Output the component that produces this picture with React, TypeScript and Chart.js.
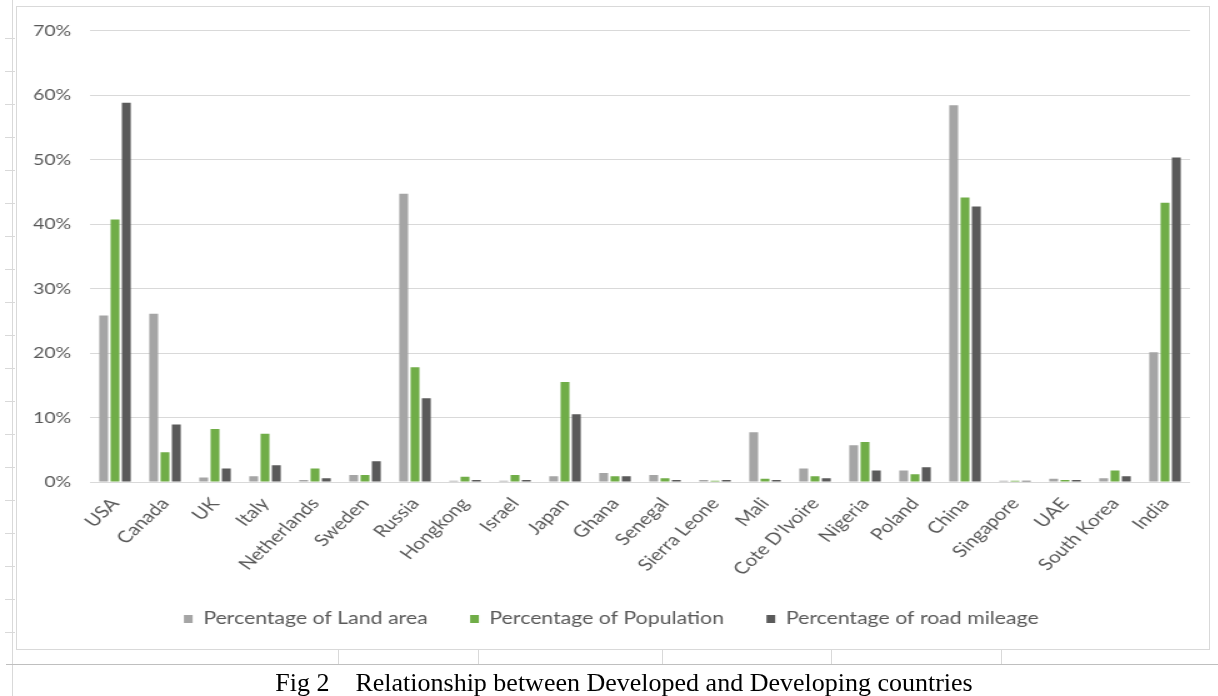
import React, { useEffect, useRef } from 'react';
import { Chart, registerables } from 'chart.js';

Chart.register(...registerables);

const countries = [
  'USA', 'Canada', 'UK', 'Italy', 'Netherlands', 'Sweden', 'Russia', 'Hongkong', 'Israel', 'Japan',
  'Ghana', 'Senegal', 'Sierra Leone', 'Mali', "Cote D'Ivoire", 'Nigeria', 'Poland', 'China',
  'Singapore', 'UAE', 'South Korea', 'India',
];
const landArea = [25.8, 26.1, 0.7, 0.9, 0.3, 1.1, 44.7, 0.2, 0.2, 0.9, 1.4, 1.1, 0.3, 7.7, 2.1, 5.7, 1.8, 58.4, 0.2, 0.5, 0.6, 20.1];
const population = [40.7, 4.6, 8.2, 7.5, 2.1, 1.1, 17.8, 0.8, 1.1, 15.5, 0.9, 0.6, 0.2, 0.5, 0.9, 6.2, 1.2, 44.1, 0.2, 0.3, 1.8, 43.3];
const roadMileage = [58.8, 8.9, 2.1, 2.6, 0.6, 3.2, 13.0, 0.3, 0.3, 10.5, 0.9, 0.3, 0.3, 0.3, 0.6, 1.8, 2.3, 42.7, 0.2, 0.3, 0.9, 50.3];
const seriesNames = ['Percentage of Land area', 'Percentage of Population', 'Percentage of road mileage'];
const seriesColors = ['#a5a5a5', '#70ad47', '#5a5a5a'];
const yMin = 0;
const yMax = 70;
const yStep = 10;
const caption = 'Fig 2    Relationship between Developed and Developing countries';

const FONT = 'Lato, "Open Sans", sans-serif';
const LINE = '#d9d9d9';
const SX = 1.25; // horizontal stretch of the reference picture

export default function App() {
  const ref = useRef<HTMLCanvasElement>(null);

  useEffect(() => {
    if (!ref.current) return;
    const chart = new Chart(ref.current, {
      type: 'bar',
      data: {
        labels: countries,
        datasets: [landArea, population, roadMileage].map((d, i) => ({
          label: seriesNames[i],
          data: d,
          backgroundColor: seriesColors[i],
          borderWidth: 0,
          categoryPercentage: 0.68,
          barPercentage: 0.78,
        })),
      },
      options: {
        responsive: false,
        animation: false,
        devicePixelRatio: 1,
        layout: { padding: { left: 16, right: 13, top: 23, bottom: 12.5 } },
        plugins: {
          tooltip: { enabled: false },
          legend: {
            position: 'bottom',
            labels: {
              boxWidth: 7,
              boxHeight: 8,
              padding: 34,
              color: '#595959',
              font: { family: FONT, size: 17 },
            },
          },
        },
        scales: {
          x: {
            grid: { display: false },
            border: { display: false },
            ticks: {
              autoSkip: false,
              minRotation: 49.4,
              maxRotation: 49.4,
              padding: 4,
              color: '#595959',
              font: { family: FONT, size: 16.5 },
            },
            afterFit: (s: any) => { s.height = 94.5; },
          },
          y: {
            min: yMin,
            max: yMax,
            border: { display: false },
            grid: { color: LINE, lineWidth: 1, drawTicks: false },
            ticks: {
              stepSize: yStep,
              padding: 15.2,
              color: '#595959',
              font: { family: FONT, size: 15.5 },
              callback: (v: any) => `${v}%`,
            },
            afterFit: (s: any) => { s.width = 46; },
          },
        },
      },
    });
    return () => chart.destroy();
  }, []);

  const rulerTicks = [38, 71, 104, 137, 170, 203, 236, 269, 302, 335, 368, 401, 434, 467, 500, 533, 566, 599, 632];
  const seps = [338, 478, 662, 831, 1001];

  return (
    <div style={{ position: 'absolute', left: 0, top: 0, width: 1218, height: 696, background: '#fff', overflow: 'hidden' }}>
      {/* left ruler */}
      <div style={{ position: 'absolute', left: 12, top: 0, width: 1, height: 696, background: LINE }} />
      {rulerTicks.map((t) => (
        <div key={t} style={{ position: 'absolute', left: 5, top: t, width: 10, height: 1, background: LINE }} />
      ))}
      {/* chart frame */}
      <div style={{ position: 'absolute', left: 16, top: 6, width: 1194, height: 644, border: `1px solid ${LINE}`, boxSizing: 'border-box' }} />
      <div
        style={{
          position: 'absolute',
          left: 0,
          top: 0,
          width: 1218 / SX,
          height: 696,
          transform: `scaleX(${SX})`,
          transformOrigin: '0 0',
        }}
      >
        <canvas ref={ref} width={955} height={644} style={{ position: 'absolute', left: 10, top: 6 }} />
      </div>
      {/* table lines below */}
      <div style={{ position: 'absolute', left: 6, top: 664, width: 1212, height: 1, background: '#bfbfbf' }} />
      {seps.map((x) => (
        <div key={x} style={{ position: 'absolute', left: x, top: 650, width: 1, height: 14, background: LINE }} />
      ))}
      <div
        style={{
          position: 'absolute',
          left: 30,
          top: 670,
          width: 1188,
          textAlign: 'center',
          fontFamily: '"Liberation Serif", "Times New Roman", serif',
          fontSize: 26,
          color: '#000',
          whiteSpace: 'pre',
          lineHeight: '26px',
        }}
      >
        {caption}
      </div>
    </div>
  );
}
